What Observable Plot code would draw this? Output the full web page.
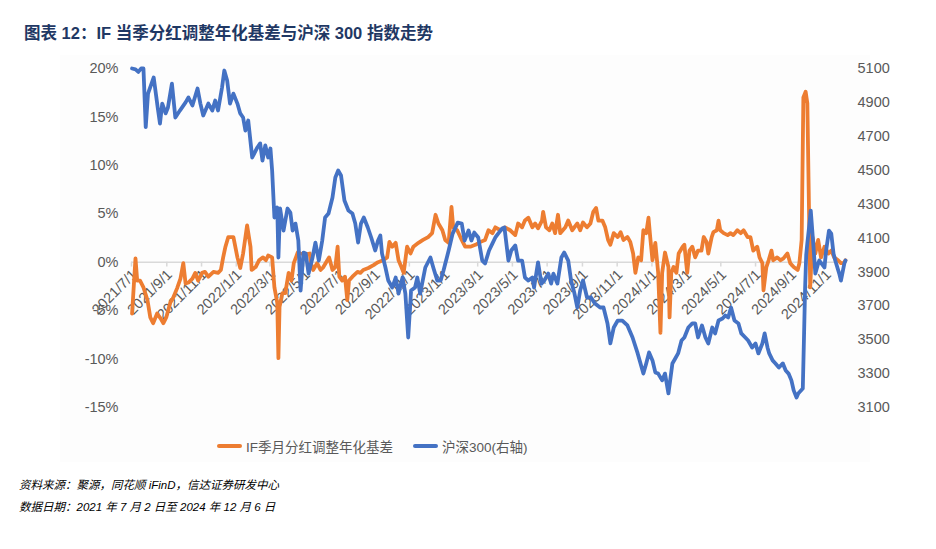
<!DOCTYPE html>
<html><head><meta charset="utf-8">
<script src="https://cdn.jsdelivr.net/npm/d3@7"></script>
<script src="https://cdn.jsdelivr.net/npm/@observablehq/plot@0.6"></script>
<style>
body{margin:0;background:#fff;width:936px;height:549px;position:relative;overflow:hidden;font-family:"Liberation Sans","Noto Sans CJK SC",sans-serif;}
#title{position:absolute;left:24px;top:22px;font-size:16.5px;line-height:22px;font-weight:bold;color:#1f3864;white-space:nowrap;}
#panel{position:absolute;left:60px;top:55px;width:810px;height:407px;background:#fdfdfd;}
#chart{position:absolute;left:0;top:50px;width:936px;height:400px;}
#chart svg{position:absolute;left:0;top:0;}
#legend{position:absolute;left:217px;top:437px;height:18px;display:flex;align-items:center;font-size:13.5px;color:#595959;white-space:nowrap;}
#legend .sw{display:inline-block;width:25px;height:4px;border-radius:2px;margin-right:4px;}
.cap{position:absolute;left:19px;font-style:italic;font-size:11.5px;line-height:14px;color:#000;white-space:nowrap;font-family:"Liberation Sans","Noto Sans CJK SC",sans-serif;}
</style></head>
<body>
<div id="panel"></div>
<div id="title">图表 12：IF 当季分红调整年化基差与沪深 300 指数走势</div>
<div id="chart"></div>
<div id="legend"></div>
<div class="cap" style="top:478px">资料来源：聚源，同花顺 iFinD，信达证券研发中心</div>
<div class="cap" style="top:500px">数据日期：2021 年 7 月 2 日至 2024 年 12 月 6 日</div>
<script>
// ---- data ----
const xDomainDates = ["2021-07-01", "2024-12-06"];
const xTickLabels = ["2021/7/1","2021/9/1","2021/11/1","2022/1/1","2022/3/1","2022/5/1","2022/7/1","2022/9/1","2022/11/1","2023/1/1","2023/3/1","2023/5/1","2023/7/1","2023/9/1","2023/11/1","2024/1/1","2024/3/1","2024/5/1","2024/7/1","2024/9/1","2024/11/1"];
const leftTicks = [-15,-10,-5,0,5,10,15,20];
const rightTicks = [3100,3300,3500,3700,3900,4100,4300,4500,4700,4900,5100];
const seriesNames = ["IF季月分红调整年化基差", "沪深300(右轴)"];

const basisDates = ["2021-07-02","2021-07-08","2021-07-11","2021-07-16","2021-07-22","2021-07-29","2021-08-03","2021-08-08","2021-08-15","2021-08-21","2021-08-26","2021-08-31","2021-09-07","2021-09-12","2021-09-19","2021-09-25","2021-09-30","2021-10-04","2021-10-09","2021-10-16","2021-10-21","2021-10-26","2021-11-02","2021-11-07","2021-11-13","2021-11-22","2021-11-30","2021-12-05","2021-12-09","2021-12-13","2021-12-18","2021-12-27","2022-01-03","2022-01-08","2022-01-13","2022-01-20","2022-01-26","2022-01-28","2022-02-04","2022-02-10","2022-02-17","2022-02-22","2022-02-26","2022-03-05","2022-03-09","2022-03-14","2022-03-16","2022-03-18","2022-03-23","2022-03-28","2022-04-03","2022-04-08","2022-04-12","2022-04-19","2022-04-24","2022-05-03","2022-05-10","2022-05-12","2022-05-16","2022-05-23","2022-05-29","2022-06-03","2022-06-10","2022-06-13","2022-06-19","2022-06-24","2022-06-28","2022-07-01","2022-07-06","2022-07-11","2022-07-15","2022-07-18","2022-07-24","2022-08-02","2022-08-07","2022-08-12","2022-08-21","2022-08-30","2022-09-07","2022-09-16","2022-09-23","2022-09-27","2022-10-02","2022-10-08","2022-10-13","2022-10-18","2022-10-22","2022-10-28","2022-11-03","2022-11-08","2022-11-17","2022-11-25","2022-12-04","2022-12-11","2022-12-17","2022-12-22","2022-12-29","2023-01-03","2023-01-09","2023-01-14","2023-01-17","2023-01-24","2023-02-01","2023-02-07","2023-02-16","2023-02-25","2023-03-06","2023-03-14","2023-03-20","2023-03-27","2023-04-01","2023-04-10","2023-04-18","2023-04-27","2023-05-06","2023-05-11","2023-05-18","2023-05-23","2023-05-29","2023-06-05","2023-06-10","2023-06-15","2023-06-22","2023-06-24","2023-06-29","2023-07-05","2023-07-10","2023-07-15","2023-07-20","2023-07-24","2023-08-02","2023-08-07","2023-08-14","2023-08-23","2023-08-28","2023-09-02","2023-09-09","2023-09-15","2023-09-20","2023-09-25","2023-09-29","2023-10-06","2023-10-11","2023-10-16","2023-10-20","2023-10-26","2023-11-02","2023-11-07","2023-11-12","2023-11-19","2023-11-24","2023-11-29","2023-12-03","2023-12-08","2023-12-13","2023-12-17","2023-12-22","2023-12-26","2023-12-29","2024-01-02","2024-01-07","2024-01-12","2024-01-16","2024-01-19","2024-01-24","2024-01-30","2024-02-01","2024-02-04","2024-02-08","2024-02-13","2024-02-17","2024-02-24","2024-02-27","2024-03-03","2024-03-07","2024-03-12","2024-03-17","2024-03-22","2024-03-28","2024-04-01","2024-04-06","2024-04-09","2024-04-15","2024-04-18","2024-04-24","2024-04-27","2024-04-30","2024-05-06","2024-05-13","2024-05-18","2024-05-23","2024-05-30","2024-06-05","2024-06-10","2024-06-17","2024-06-22","2024-06-27","2024-07-04","2024-07-08","2024-07-13","2024-07-15","2024-07-20","2024-07-24","2024-07-29","2024-08-01","2024-08-08","2024-08-14","2024-08-19","2024-08-26","2024-08-31","2024-09-06","2024-09-13","2024-09-16","2024-09-20","2024-09-23","2024-09-27","2024-09-30","2024-10-02","2024-10-05","2024-10-09","2024-10-14","2024-10-19","2024-10-24","2024-10-30","2024-11-06","2024-11-11","2024-11-16","2024-11-23","2024-11-28","2024-12-03","2024-12-06"];
const basisValues = [-5.3,0.4,-1.9,-1.9,-2.6,-3.9,-5.7,-6.3,-5.3,-5.8,-6.3,-5.7,-4.2,-3.7,-2.7,-1.7,-0.1,-2.2,-2.1,-1.7,-1.1,-1.9,-1.1,-1.0,-1.5,-1.0,-1.1,-0.8,0.5,1.6,2.6,2.6,0.5,-0.6,0.9,3.8,1.6,-0.8,-0.5,0.2,0.5,0.2,0.7,0.5,-2.6,-4.2,-9.9,-4.6,-3.2,-3.2,-1.1,-1.9,-0.1,1.0,0.9,0.8,0.9,-0.1,-0.8,-0.1,-0.8,-0.5,0.2,0.5,-0.8,-0.5,1.6,-1.5,-1.9,-1.5,-3.9,-1.9,-1.5,-1.0,-1.1,-0.8,-0.6,-0.3,0.0,0.2,0.5,2.1,1.6,2.0,0.2,-0.5,-1.1,1.6,0.9,1.6,2.0,2.3,2.6,3.0,4.9,4.0,3.3,2.3,2.0,5.7,3.6,3.3,2.3,1.6,1.6,1.8,2.1,2.3,3.3,3.0,3.6,3.3,3.6,3.3,2.8,4.0,3.6,4.3,4.6,3.6,4.0,3.5,4.3,5.2,3.6,3.3,4.0,3.0,4.9,3.0,3.6,4.3,3.3,4.0,3.3,4.1,3.6,4.0,5.2,5.6,4.3,4.3,3.6,2.3,1.8,3.0,2.6,3.1,2.3,2.6,2.1,0.9,-1.1,0.5,0.2,3.3,3.0,4.6,2.6,0.2,2.0,-1.1,-7.3,-1.1,1.0,-0.5,-5.7,-1.1,-0.5,-1.1,0.9,1.6,1.8,-1.1,1.2,1.6,0.5,1.2,1.2,2.6,2.1,0.9,2.6,3.1,3.3,4.3,3.3,3.0,2.8,3.0,2.8,3.3,3.0,3.3,2.6,2.6,1.2,1.6,0.5,-0.1,-2.9,-0.5,0.2,1.2,0.2,0.5,0.2,0.4,0.9,-0.1,-0.5,-0.8,-0.1,2.3,17.0,17.6,16.4,8.8,-2.6,2.6,0.9,2.3,0.5,1.6,0.9,1.2,0.5,0.2,-0.1,-0.1,0.2];

const hs300Dates = ["2021-07-02","2021-07-08","2021-07-13","2021-07-18","2021-07-22","2021-07-26","2021-07-30","2021-08-09","2021-08-16","2021-08-20","2021-08-24","2021-08-30","2021-09-03","2021-09-10","2021-09-16","2021-09-24","2021-10-04","2021-10-09","2021-10-16","2021-10-25","2021-10-30","2021-11-04","2021-11-13","2021-11-20","2021-11-25","2021-11-30","2021-12-07","2021-12-11","2021-12-16","2021-12-21","2021-12-27","2022-01-03","2022-01-08","2022-01-13","2022-01-17","2022-01-22","2022-01-29","2022-02-07","2022-02-12","2022-02-16","2022-02-21","2022-02-26","2022-03-02","2022-03-05","2022-03-09","2022-03-14","2022-03-16","2022-03-19","2022-03-25","2022-04-01","2022-04-06","2022-04-10","2022-04-15","2022-04-20","2022-04-24","2022-04-29","2022-05-03","2022-05-08","2022-05-15","2022-05-20","2022-05-26","2022-06-01","2022-06-06","2022-06-12","2022-06-19","2022-06-24","2022-06-29","2022-07-04","2022-07-10","2022-07-17","2022-07-24","2022-07-29","2022-08-03","2022-08-08","2022-08-13","2022-08-20","2022-08-26","2022-09-02","2022-09-07","2022-09-11","2022-09-14","2022-09-20","2022-09-25","2022-10-02","2022-10-08","2022-10-13","2022-10-20","2022-10-25","2022-10-30","2022-11-04","2022-11-11","2022-11-15","2022-11-20","2022-11-29","2022-12-08","2022-12-13","2022-12-20","2022-12-26","2022-12-31","2023-01-09","2023-01-16","2023-01-25","2023-02-01","2023-02-06","2023-02-13","2023-02-18","2023-02-23","2023-03-02","2023-03-09","2023-03-14","2023-03-21","2023-03-27","2023-04-01","2023-04-06","2023-04-13","2023-04-17","2023-04-24","2023-04-29","2023-05-06","2023-05-11","2023-05-18","2023-05-23","2023-05-29","2023-06-05","2023-06-08","2023-06-15","2023-06-21","2023-06-26","2023-07-03","2023-07-08","2023-07-12","2023-07-19","2023-07-26","2023-07-31","2023-08-07","2023-08-12","2023-08-18","2023-08-23","2023-08-28","2023-09-02","2023-09-09","2023-09-16","2023-09-23","2023-10-02","2023-10-08","2023-10-15","2023-10-20","2023-10-26","2023-11-02","2023-11-10","2023-11-19","2023-11-28","2023-12-07","2023-12-12","2023-12-17","2023-12-22","2023-12-27","2024-01-02","2024-01-07","2024-01-12","2024-01-19","2024-01-24","2024-01-30","2024-02-06","2024-02-11","2024-02-16","2024-02-22","2024-02-27","2024-03-05","2024-03-12","2024-03-17","2024-03-22","2024-03-29","2024-04-04","2024-04-09","2024-04-16","2024-04-21","2024-04-27","2024-05-04","2024-05-09","2024-05-14","2024-05-19","2024-05-25","2024-06-01","2024-06-06","2024-06-13","2024-06-18","2024-06-25","2024-07-01","2024-07-06","2024-07-13","2024-07-17","2024-07-22","2024-07-25","2024-07-31","2024-08-05","2024-08-11","2024-08-18","2024-08-23","2024-08-28","2024-09-02","2024-09-06","2024-09-11","2024-09-14","2024-09-22","2024-09-24","2024-09-26","2024-09-28","2024-09-30","2024-10-03","2024-10-06","2024-10-10","2024-10-14","2024-10-19","2024-10-21","2024-10-30","2024-11-02","2024-11-07","2024-11-11","2024-11-15","2024-11-18","2024-11-25","2024-11-28","2024-12-04","2024-12-06"];
const hs300Values = [5100,5095,5080,5100,5100,4754,4952,5047,4870,4775,4893,4835,4870,5011,4811,4852,4900,4929,4882,4982,4893,4823,4893,4852,4911,4852,4988,5088,5029,4893,4952,4893,4835,4811,4734,4793,4575,4634,4658,4557,4646,4575,4628,4498,4221,4280,3985,4274,4144,4274,4250,4144,4185,4085,3790,4014,4008,3890,3985,4073,3967,4085,4221,4245,4339,4457,4498,4469,4321,4262,4245,4185,4073,4185,4221,4162,4103,4026,4085,4115,4008,3926,3849,3808,3867,3772,3867,3772,3513,3790,3808,3867,3772,3926,3985,3926,3849,3849,3908,4026,4126,4191,4185,4085,4144,4085,4132,4103,3967,3950,4026,4068,4103,4126,4156,4162,3967,4026,4056,3967,3967,3867,3849,3867,3808,3956,3831,3849,3890,3831,3890,3831,3985,4014,3967,3849,3772,3690,3790,3849,3749,3749,3713,3690,3690,3596,3478,3572,3613,3613,3584,3513,3419,3360,3300,3360,3425,3378,3307,3300,3260,3300,3183,3360,3389,3419,3495,3513,3572,3596,3596,3513,3584,3513,3478,3572,3537,3613,3625,3643,3631,3690,3613,3596,3537,3513,3495,3454,3478,3419,3478,3537,3454,3419,3378,3360,3336,3360,3318,3300,3260,3201,3159,3183,3212,3500,3800,4000,4070,4162,4262,4085,3890,3950,3967,3926,4026,4144,4126,4008,3967,3890,3849,3950,3967];

// ---- tables ----
const basis = basisDates.map((d, i) => ({date: new Date(d), v: basisValues[i]}));
const hs300 = hs300Dates.map((d, i) => ({date: new Date(d), v: hs300Values[i]}));
const ticks = xTickLabels.map(s => { const [y, m, d] = s.split("/").map(Number); return {date: new Date(Date.UTC(y, m - 1, d)), label: s}; });
const xDomain = xDomainDates.map(d => new Date(d));

const FONT = '"Liberation Sans","Noto Sans CJK SC",sans-serif';
const common = {width: 936, height: 400, marginLeft: 131, marginRight: 91, marginTop: 18, marginBottom: 43,
  style: {background: "transparent", fontFamily: FONT, fontSize: "14px", overflow: "visible"}};

const p1 = Plot.plot({
  ...common,
  x: {type: "utc", domain: xDomain, axis: null},
  y: {domain: [-15, 20], axis: null},
  marks: [
    Plot.ruleY([0], {stroke: "#d9d9d9", strokeWidth: 1.5}),
    Plot.ruleX(ticks, {x: "date", y1: 0, y2: -0.5, stroke: "#d9d9d9", strokeWidth: 1.5}),
    Plot.text(ticks, {x: "date", y: 0, text: "label", rotate: -45, textAnchor: "end", lineAnchor: "middle", dx: 3, dy: 10, fill: "#595959", fontSize: 14.5}),
    Plot.axisY(leftTicks, {anchor: "left", label: null, tickSize: 0, tickPadding: 13, tickFormat: d => d + "%", fill: "#595959", fontSize: 14.5}),
    Plot.line(basis, {x: "date", y: "v", stroke: "#ED7D31", strokeWidth: 3.8})
  ]
});

const p2 = Plot.plot({
  ...common,
  x: {type: "utc", domain: xDomain, axis: null},
  y: {domain: [3100, 5100], axis: null},
  marks: [
    Plot.axisY(rightTicks, {anchor: "right", label: null, tickSize: 0, tickPadding: 12, tickFormat: d => String(d), fill: "#595959", fontSize: 14.5}),
    Plot.line(hs300, {x: "date", y: "v", stroke: "#4472C4", strokeWidth: 3.8})
  ]
});

const chart = document.getElementById("chart");
chart.appendChild(p1);
chart.appendChild(p2);

// legend
const legend = document.getElementById("legend");
const colors = ["#ED7D31", "#4472C4"];
seriesNames.forEach((name, i) => {
  const sw = document.createElement("span");
  sw.className = "sw";
  sw.style.background = colors[i];
  if (i > 0) sw.style.marginLeft = "20px";
  const t = document.createElement("span");
  t.textContent = name;
  legend.appendChild(sw);
  legend.appendChild(t);
});
</script>
</body></html>
